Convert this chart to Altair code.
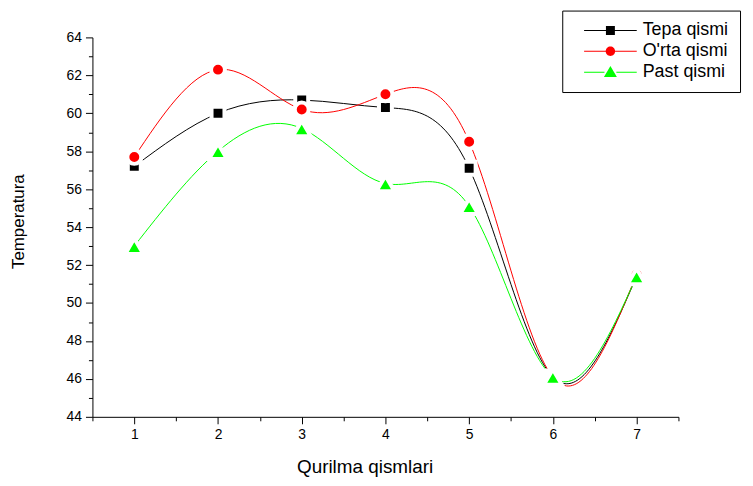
import altair as alt
import pandas as pd

# ---- data ----
positions = [1, 2, 3, 4, 5, 6, 7]
series_names = ["Tepa qismi", "O'rta qismi", "Past qismi"]
tepa = [57.2, 60.0, 60.7, 60.3, 57.1, 46.1, 51.4]
orta = [57.7, 62.3, 60.2, 61.0, 58.5, 46.1, 51.5]
past = [53.0, 58.0, 59.2, 56.3, 55.1, 46.1, 51.4]
x_tick_values = [0.5, 1, 1.5, 2, 2.5, 3, 3.5, 4, 4.5, 5, 5.5, 6, 6.5, 7, 7.5]
y_tick_values = list(range(44, 65))

# ---- styles ----
colors = ["#000000", "#FF0000", "#00FF00"]
shapes = ["square", "circle", "triangle-up"]
marker_sizes = [169, 196, 330]
# legend symbols: line + marker drawn as one custom path (unit = 5px at size 100)
legend_paths = [
    "M0.4,-0.1 L4.8,-0.1 L4.8,0.1 L0.4,0.1 Z "
    "M4.8,-0.9 L6.6,-0.9 L6.6,0.9 L4.8,0.9 Z "
    "M6.6,-0.1 L11.0,-0.1 L11.0,0.1 L6.6,0.1 Z",
    "M0.4,-0.1 L4.8,-0.1 L4.8,0.1 L0.4,0.1 Z "
    "M4.75,0 A0.95,0.95 0 1,1 6.65,0 A0.95,0.95 0 1,1 4.75,0 Z "
    "M6.6,-0.1 L11.0,-0.1 L11.0,0.1 L6.6,0.1 Z",
    "M0.4,-0.1 L4.5,-0.1 L4.5,0.1 L0.4,0.1 Z "
    "M4.4,0.95 L5.7,-1.25 L7.0,0.95 Z "
    "M6.9,-0.1 L11.0,-0.1 L11.0,0.1 L6.9,0.1 Z",
]

rows = []
for name, vals in zip(series_names, [tepa, orta, past]):
    for p, v in zip(positions, vals):
        rows.append({"pos": p, "temp": v, "series": name})
df = pd.DataFrame(rows)

FONT = "Liberation Sans"

x_enc = alt.X(
    "pos:Q",
    scale=alt.Scale(domain=[0.5, 7.5], nice=False, zero=False),
    axis=alt.Axis(
        title="Qurilma qismlari",
        values=x_tick_values,
        labelExpr="datum.value % 1 == 0 ? format(datum.value, 'd') : ''",
        tickSize={"condition": {"test": "datum.value % 1 == 0", "value": 7}, "value": 4},
        labelFontSize=14,
        labelPadding=4,
        titleFontSize=19,
        titleFontWeight="normal",
        titleX=274,
        titleY=56,
        titleAlign="center",
        titleBaseline="alphabetic",
        grid=False,
    ),
)
y_enc = alt.Y(
    "temp:Q",
    scale=alt.Scale(domain=[44, 64], nice=False, zero=False),
    axis=alt.Axis(
        title="Temperatura",
        values=y_tick_values,
        labelExpr="datum.value % 2 == 0 ? format(datum.value, 'd') : ''",
        tickSize={"condition": {"test": "datum.value % 2 == 0", "value": 7}, "value": 4},
        labelFontSize=14,
        labelPadding=4,
        titleFontSize=17,
        titleFontWeight="normal",
        titleX=-69,
        titleY=185,
        titleAlign="center",
        titleBaseline="alphabetic",
        grid=False,
    ),
)

color_plain = alt.Color(
    "series:N", scale=alt.Scale(domain=series_names, range=colors), legend=None
)

lines = alt.Chart(df).mark_line(interpolate="natural", strokeWidth=1).encode(
    x=x_enc, y=y_enc, color=color_plain, detail="series:N"
)

points = alt.Chart(df).mark_point(
    filled=True, opacity=1, stroke="white", strokeWidth=4
).encode(
    x=x_enc,
    y=y_enc,
    color=color_plain,
    shape=alt.Shape("series:N", scale=alt.Scale(domain=series_names, range=shapes), legend=None),
    size=alt.Size(
        "series:N",
        scale=alt.Scale(type="ordinal", domain=series_names, range=marker_sizes),
        legend=None,
    ),
)

legend_cfg = alt.Legend(
    orient="none",
    legendX=473,
    legendY=-27,
    title=None,
    labelFont=FONT,
    labelFontSize=18,
    labelColor="black",
    symbolSize=100,
    symbolStrokeWidth=0,
    symbolOpacity=1,
    labelOffset=52,
    padding=11,
    rowPadding=3,
    strokeColor="black",
    fillColor="white",
    labelLimit=0,
)

legend_driver = alt.Chart(df).transform_filter("false").mark_point(
    filled=True, opacity=1, size=100
).encode(
    x=x_enc,
    y=y_enc,
    color=alt.Color("series:N", scale=alt.Scale(domain=series_names, range=colors), legend=legend_cfg, sort=series_names),
    shape=alt.Shape("series:N", scale=alt.Scale(domain=series_names, range=legend_paths), legend=legend_cfg, sort=series_names),
)

chart = (
    alt.layer(lines, points, legend_driver)
    .resolve_scale(color="independent", shape="independent")
    .properties(
        width=590,
        height=382,
        autosize=alt.AutoSizeParams(type="none"),
        padding={"left": 85, "top": 28, "right": 67, "bottom": 60},
        background="white",
    )
    .configure_view(stroke="transparent")
    .configure_axis(
        labelFont=FONT,
        titleFont=FONT,
        labelColor="black",
        titleColor="black",
        domainColor="black",
        tickColor="black",
        domainWidth=1,
        tickWidth=1,
    )
)

chart.save("out.html", embed_options={"renderer": "svg", "actions": False})
